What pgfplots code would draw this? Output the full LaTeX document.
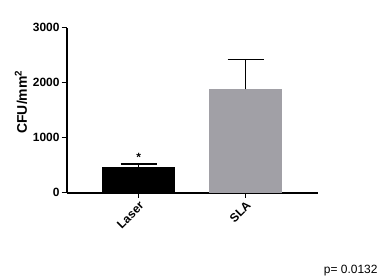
\documentclass[border=0pt]{standalone}
\usepackage{fontspec}
\setmainfont{Liberation Sans}
\usepackage{pgfplots}
\pgfplotsset{compat=1.18}
\definecolor{slagray}{RGB}{161,160,166}
\begin{document}
\begin{tikzpicture}
\path (0bp,0bp) rectangle (385bp,280bp);
\begin{axis}[
  at={(66.7bp,87.3bp)}, anchor=south west,
  scale only axis, width=251bp, height=165bp,
  ymin=0, ymax=3000, xmin=-0.673, xmax=1.673,
  axis x line*=bottom, axis y line*=left,
  axis line style={line width=2bp, black},
  tick align=outside,
  major tick length=5bp,
  tick style={line width=1.5bp, black},
  xtick={0,1}, xticklabels={Laser,SLA},
  ytick={0,1000,2000,3000},
  /pgf/number format/assume math mode=true,
  /pgf/number format/1000 sep={},
  ticklabel style={font=\fontsize{12}{14}\selectfont\bfseries},
  xticklabel style={rotate=45, anchor=north east, inner sep=2bp},
  yticklabel style={inner sep=2bp},
  ybar, bar width=0.68, bar shift=0pt,
  clip=false,
]
\addplot[fill=black, draw=none, error bars/.cd, y dir=plus, y explicit,
  error mark=|,
  error bar style={line width=1.5bp, black},
  error mark options={line width=1.5bp, black, mark size=18bp}]
  coordinates {(0,470) +- (0,52)};
\addplot[fill=slagray, draw=none, error bars/.cd, y dir=plus, y explicit,
  error mark=|,
  error bar style={line width=1.5bp, black},
  error mark options={line width=1.5bp, black, mark size=18bp}]
  coordinates {(1,1880) +- (0,545)};
\node[font=\fontsize{12}{12}\selectfont\bfseries] at (axis cs:0,640) {*};
\end{axis}
\node[rotate=90, anchor=center, font=\fontsize{14}{16}\selectfont\bfseries] at (21bp,178bp) {CFU/mm\textsuperscript{2}};
\node[anchor=base east, font=\fontsize{12}{14}\selectfont] at (381bp,7bp) {p= 0.0132};
\end{tikzpicture}
\end{document}
